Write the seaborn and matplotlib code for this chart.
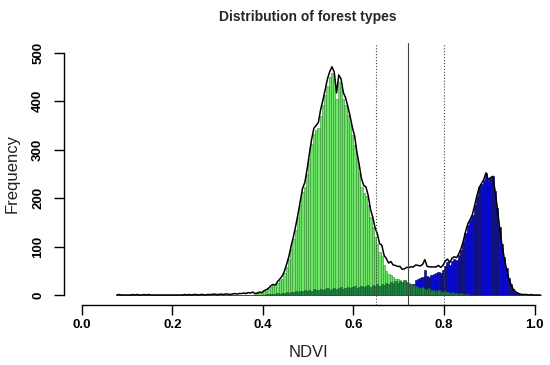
import numpy as np
import pandas as pd
import matplotlib
matplotlib.use('Agg')
import matplotlib.pyplot as plt
import seaborn as sns

# histogram counts per 0.005 NDVI bin
BW = 0.005

light_start = 0.380
light = [3, 4, 6, 5, 8, 9, 12, 16, 20, 17,
         24, 30, 34, 45, 58, 75, 95, 115, 135, 160,
         185, 212, 222, 250, 280, 312, 332, 340, 345, 370,
         392, 412, 432, 450, 458, 445, 405, 440, 430, 405,
         392, 372, 355, 330, 310, 280, 252, 222, 210, 205,
         185, 160, 140, 120, 105, 88, 80, 62, 50, 44,
         42, 38, 33, 34, 30, 27, 24, 22, 20, 18,
         16, 14, 12, 10, 9, 8, 7, 6, 5, 4,
         4, 3, 3, 2, 2]

dark_start = 0.400
dark = [1, 2, 2, 3, 2, 3, 4, 3, 5, 4,
        6, 5, 7, 6, 8, 7, 9, 8, 10, 9,
        11, 9, 12, 10, 11, 13, 10, 12, 14, 11,
        13, 15, 12, 14, 16, 13, 15, 17, 14, 16,
        18, 15, 17, 19, 16, 18, 20, 17, 21, 19,
        22, 18, 23, 20, 25, 22, 27, 24, 28, 25,
        29, 26, 30, 27, 25, 22, 20, 18, 17, 15,
        16, 13, 12, 14, 11, 10, 9, 10, 8, 7,
        8, 6, 5, 6, 4, 5, 3, 4, 2, 3,
        2, 1, 1]

blue_start = 0.715
blue = [8, 12, 18, 22, 30, 32, 35, 38, 52, 40,
        38, 42, 44, 45, 48, 46, 52, 60, 68, 62,
        70, 75, 72, 82, 92, 110, 128, 145, 155, 165,
        185, 205, 222, 230, 238, 252, 238, 242, 245, 215,
        180, 140, 105, 78, 55, 35, 22, 12, 7, 4,
        2, 1, 1, 1, 0, 1, 0, 0, 0]

other_start = 0.075
other = [0, 1, 0, 0, 0, 0, 0, 1, 0, 1,
         0, 0, 1, 0, 1, 0, 0, 0, 0, 0,
         0, 0, 0, 0, 0, 0, 0, 0, 0, 0,
         1, 0, 1, 0, 1, 1, 0, 1, 1, 0,
         1, 1, 1, 2, 1, 1, 2, 1, 2, 2,
         1, 2, 3, 2, 3, 3, 4, 3, 5, 4,
         6]

cut_lines = [0.65, 0.72, 0.80]
cut_styles = [':', '-', ':']

grid = np.round(0.075 + BW * np.arange(188), 3)
edges = [float(e) for e in np.append(grid, grid[-1] + BW)]


def on_grid(start, vals):
    idx = np.round(start + BW * np.arange(len(vals)), 3)
    return pd.Series(vals, index=idx).reindex(grid, fill_value=0).values


df = pd.DataFrame({'ndvi': grid + BW / 2,
                   'light': on_grid(light_start, light),
                   'dark': on_grid(dark_start, dark),
                   'blue': on_grid(blue_start, blue),
                   'other': on_grid(other_start, other)})
df['total'] = df[['light', 'dark', 'blue', 'other']].sum(axis=1)

sns.set_theme(style='white')
plt.rcParams['font.family'] = ['Liberation Sans', 'DejaVu Sans']

W, H = 550, 365
fig = plt.figure(figsize=(W / 100, H / 100), dpi=100)
ax = fig.add_axes([63.6 / W, 1 - 304.7 / H, 489.2 / W, 261.7 / H])

for col, fc, ec in [('light', '#6ee468', '#2f8f2f'),
                    ('blue', '#0b0bd0', '#000055'),
                    ('dark', '#1f8040', '#145a2a')]:
    sub = df[df[col] > 0]
    sns.histplot(data=sub, x='ndvi', weights=col, bins=edges, color=fc,
                 edgecolor=ec, linewidth=0.4, alpha=1, ax=ax)

# total of all pixels as a polyline through bin centres
sns.lineplot(data=df, x='ndvi', y='total', color='black', linewidth=1.1,
             ax=ax)

for xv, ls in zip(cut_lines, cut_styles):
    ax.axvline(xv, ls=ls, color='#444444', lw=0.8)

ax.set_xlim(-0.04, 1.04)
ax.set_ylim(-20, 520)
ax.set_xticks([0.0, 0.2, 0.4, 0.6, 0.8, 1.0])
ax.set_xticklabels(['0.0', '0.2', '0.4', '0.6', '0.8', '1.0'])
ax.set_yticks([0, 100, 200, 300, 400, 500])

for s in ['top', 'right']:
    ax.spines[s].set_visible(False)
ax.spines['left'].set_bounds(0, 500)
ax.spines['bottom'].set_bounds(0, 1)
for s in ['left', 'bottom']:
    ax.spines[s].set_color('black')
    ax.spines[s].set_linewidth(1.0)

ax.tick_params(axis='both', direction='out', length=7, width=1, color='black',
               labelsize=9.5, labelcolor='black', left=True, bottom=True)
ax.tick_params(axis='x', pad=3.5)
ax.tick_params(axis='y', pad=7, labelrotation=90)
for lab in ax.get_xticklabels() + ax.get_yticklabels():
    lab.set_fontweight('bold')
for lab in ax.get_yticklabels():
    lab.set_va('center')

ax.set_xlabel('NDVI', fontsize=12, color='#222222')
ax.xaxis.set_label_coords(0.5, -0.181)
ax.xaxis.label.set_va('center')
ax.set_ylabel('Frequency', fontsize=12, color='#222222')
ax.yaxis.set_label_coords(-0.1045, 0.5)
ax.yaxis.label.set_va('center')

ax.set_title('Distribution of forest types', fontsize=10, fontweight='bold',
             y=1 + 26 / 261.7, va='center', pad=0)

fig.savefig('out.png', dpi=100)
